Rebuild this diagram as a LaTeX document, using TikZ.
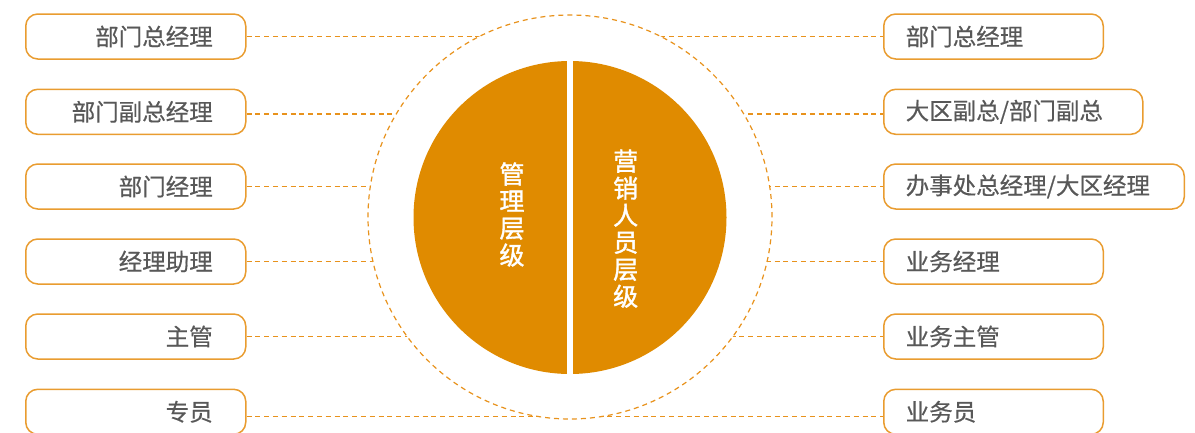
\documentclass[tikz,border=0pt]{standalone}
\usepackage{fontspec}
\newfontfamily\cjk{Noto Sans CJK SC}[RawFeature={embolden=0.5}]
\newfontfamily\cjkb{Noto Sans CJK SC}[RawFeature={embolden=1.5}]
\definecolor{ringc}{RGB}{232,146,28}
\definecolor{boxc}{RGB}{233,156,48}
\definecolor{fillc}{RGB}{224,139,0}
\definecolor{txtc}{RGB}{88,88,88}
\tikzset{
  boxbase/.style={draw=boxc, line width=1.5pt, rounded corners=12pt, minimum height=45pt,
    text=txtc, font=\cjk\fontsize{23.5}{26}\selectfont, anchor=west, inner ysep=0pt},
  lbox/.style={boxbase, inner xsep=33pt, text width=154pt, align=right},
  rbox/.style={boxbase, inner xsep=22pt, align=left},
  conn/.style={draw=ringc, line width=1.4pt, dash pattern=on 5pt off 3.8pt},
  vtext/.style={text=white, font=\cjkb\fontsize{25}{27}\selectfont, align=center, inner sep=0pt}
}
\begin{document}
\begin{tikzpicture}[x=1pt,y=-1pt]
\useasboundingbox (0,0) rectangle (1195,432);
% left boxes
\node[lbox] (L1) at (25,36.5) {部门总经理};
\node[lbox] (L2) at (25,111.8) {部门副总经理};
\node[lbox] (L3) at (25,186.5) {部门经理};
\node[lbox] (L4) at (25,261.5) {经理助理};
\node[lbox] (L5) at (25,336.5) {主管};
\node[lbox] (L6) at (25,411.8) {专员};
% right boxes
\node[rbox, text width=175.5pt] (R1) at (883,36.5) {部门总经理};
\node[rbox, text width=215pt] (R2) at (883,111.8) {大区副总/部门副总};
\node[rbox, text width=256.5pt] (R3) at (883,186.5) {办事处总经理/大区经理};
\node[rbox, text width=175.5pt] (R4) at (883,261.5) {业务经理};
\node[rbox, text width=175.5pt] (R5) at (883,336.5) {业务主管};
\node[rbox, text width=175.5pt] (R6) at (883,411.8) {业务员};
% connectors
\draw[conn] (L1.east) -- (R1.west);
\draw[conn] ([yshift=-2.3pt]L2.east) -- ([yshift=-2.3pt]R2.west);
\draw[conn] (L3.east) -- (R3.west);
\draw[conn] (L4.east) -- (R4.west);
\draw[conn] (L5.east) -- (R5.west);
\draw[conn] ([yshift=-4.9pt]L6.east) -- ([yshift=-4.9pt]R6.west);
% ring and core
\node[circle, fill=white, draw=ringc, line width=1.2pt, dash pattern=on 5pt off 4pt,
      minimum size=404pt, inner sep=0pt] (ring) at (570,217) {};
\node[circle, fill=fillc, minimum size=313pt, inner sep=0pt] (core) at (570,217.5) {};
\draw[white, line width=5.4pt] ([yshift=1pt]core.north) -- ([yshift=-1pt]core.south);
\node[vtext] (left) at (512,214.5) {管\\理\\层\\级};
\node[vtext] (right) at (625.7,228.7) {营\\销\\人\\员\\层\\级};
\end{tikzpicture}
\end{document}
